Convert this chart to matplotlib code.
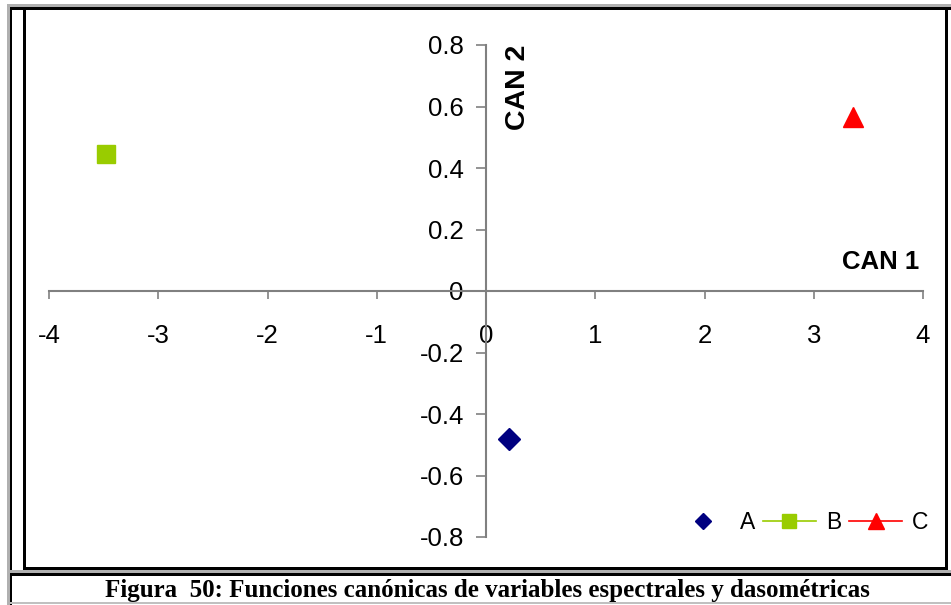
import matplotlib
matplotlib.use('Agg')
from matplotlib import pyplot as plt
from matplotlib.patches import Rectangle

# canonical scores per group
groups = ['A', 'B', 'C']
can1 = [0.21, -3.48, 3.36]
can2 = [-0.48, 0.445, 0.566]
colors = ['#000080', '#99CC00', '#FF0000']
markers = ['D', 's', '^']
msizes = [10.7, 13, 14.5]

xticks = [-4, -3, -2, -1, 0, 1, 2, 3, 4]
yticks = [-0.8, -0.6, -0.4, -0.2, 0, 0.2, 0.4, 0.6, 0.8]
caption = 'Figura  50: Funciones canónicas de variables espectrales y dasométricas'

W, H = 951, 605
fig = plt.figure(figsize=(W / 100, H / 100), dpi=100)
plt.rcParams['font.family'] = 'Liberation Sans'

def frac_rect(x0, y0, x1, y1, color):
    # pixel coords from top-left
    fig.patches.append(Rectangle((x0 / W, 1 - y1 / H), (x1 - x0) / W, (y1 - y0) / H,
                                 transform=fig.transFigure, color=color, lw=0, zorder=0))

# page/frame borders
frac_rect(7, 4, W, 7, '#b0b0b0')
frac_rect(7, 4, 10, H, '#b0b0b0')
frac_rect(10, 7, W, 10, '#000000')
frac_rect(10, 7, 12, H, '#000000')
frac_rect(23, 8, 26, 570, '#000000')
frac_rect(945, 8, 948, 570, '#000000')
frac_rect(23, 567, 948, 570, '#000000')
frac_rect(10, 570, W, 573, '#b0b0b0')
frac_rect(10, 573, W, 576, '#000000')
frac_rect(10, 602, W, 604, '#c0c0c0')

ax = fig.add_axes([49 / W, 1 - 537 / H, (923 - 49) / W, (537 - 45) / H])
ax.set_xlim(-4, 4)
ax.set_ylim(-0.8, 0.8)

for i in range(len(groups)):
    ls = 'none' if i == 0 else '-'
    ax.plot([can1[i]], [can2[i]], marker=markers[i], color=colors[i], markersize=msizes[i],
            linestyle=ls, lw=1.2, label=groups[i], clip_on=False, zorder=5)

for side in ['top', 'right']:
    ax.spines[side].set_visible(False)
for side in ['left', 'bottom']:
    ax.spines[side].set_position(('data', 0))
    ax.spines[side].set_color('#808080')
    ax.spines[side].set_linewidth(1.5)

ax.set_xticks(xticks)
ax.set_yticks(yticks)
ax.set_xticklabels([str(t) for t in xticks])
ax.set_yticklabels(['0' if t == 0 else f'{t:.1f}' for t in yticks])
ax.tick_params(axis='x', direction='out', length=6, width=1.2, color='#808080',
               labelsize=18.5, pad=18)
ax.tick_params(axis='y', direction='out', length=7, width=1.2, color='#808080',
               labelsize=18.5, pad=9)

ax.text(3.97, 0.095, 'CAN 1', fontsize=18.5, fontweight='bold', ha='right', va='center')
ax.text(0.29, 0.8, 'CAN 2', fontsize=20.5, fontweight='bold', rotation=90, ha='center', va='top')

leg = ax.legend(loc='lower right', ncol=3, frameon=False, fontsize=16.5, markerscale=0.8,
                handlelength=2.3, handletextpad=0.45, columnspacing=0.35,
                bbox_to_anchor=(1.03, -0.035))

fig.text(487 / W, 1 - 590 / H, caption, fontfamily='Liberation Serif', fontweight='bold',
         fontsize=18, ha='center', va='center')

fig.savefig('out.png', dpi=100)
